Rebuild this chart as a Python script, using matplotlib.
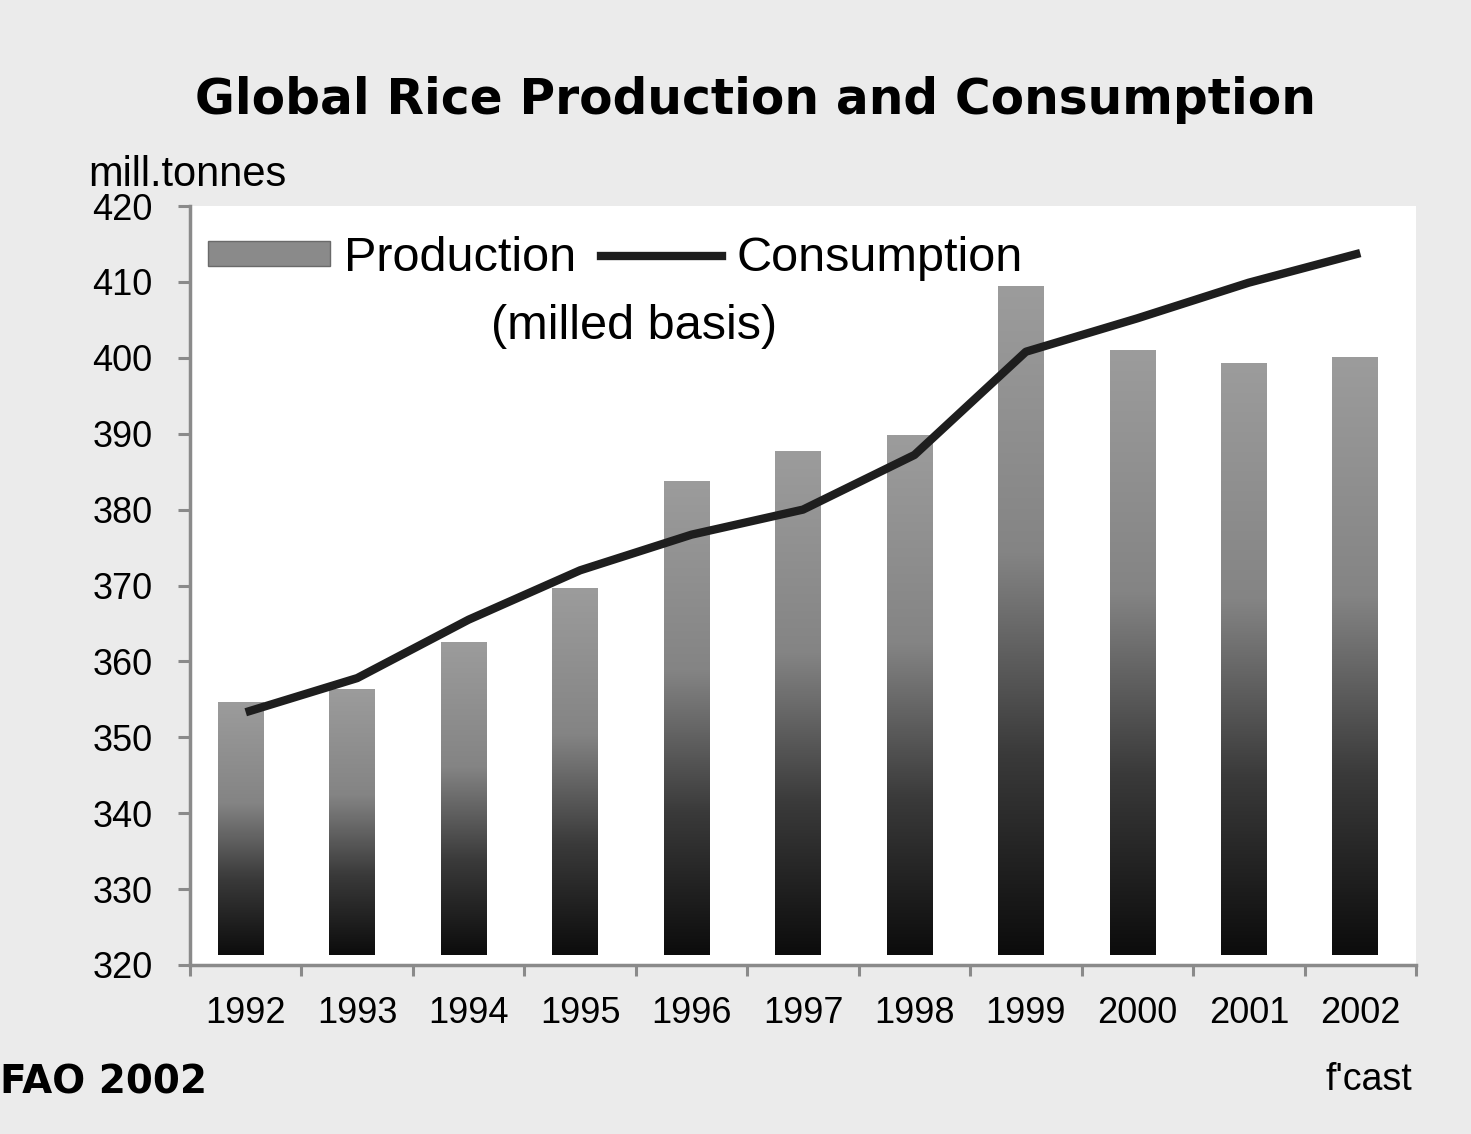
import numpy as np
import matplotlib
matplotlib.use("Agg")
import matplotlib.pyplot as plt
from matplotlib.colors import LinearSegmentedColormap
from matplotlib.patches import Patch
from matplotlib.lines import Line2D

# ---- data ----
years = ["1992", "1993", "1994", "1995", "1996", "1997", "1998", "1999", "2000", "2001", "2002"]
production = [354.7, 356.4, 362.6, 369.7, 383.8, 387.7, 389.8, 409.5, 401.0, 399.3, 400.1]
consumption = [353.3, 357.8, 365.5, 372.0, 376.7, 380.0, 387.2, 400.8, 405.2, 409.9, 413.8]
y_ticks = [320, 330, 340, 350, 360, 370, 380, 390, 400, 410, 420]

BAR_BASE = 321.3
BAR_SHIFT = -0.045
FONT = "Liberation Sans"

fig = plt.figure(figsize=(14.71, 11.34), dpi=100, facecolor="#ebebeb")
ax = fig.add_axes([190 / 1471, 1 - 965 / 1134, 1226 / 1471, 759 / 1134])
ax.set_facecolor("white")

x = np.arange(len(years))
heights = [p - BAR_BASE for p in production]
bars = ax.bar(x + BAR_SHIFT, heights, bottom=BAR_BASE, width=0.41, facecolor="none",
              edgecolor="none", zorder=2)

cmap = LinearSegmentedColormap.from_list(
    "bargrad", [(0.0, "#0c0c0c"), (0.3, "#3a3a3a"), (0.6, "#848484"), (1.0, "#9c9c9c")])
grad = np.linspace(0, 1, 256).reshape(-1, 1)
for b in bars:
    x0, y0 = b.get_x(), b.get_y()
    w, h = b.get_width(), b.get_height()
    im = ax.imshow(grad, cmap=cmap, origin="lower", aspect="auto",
                   extent=(x0, x0 + w, y0, y0 + h), zorder=2, interpolation="bilinear")
    im.set_clip_path(b)

ax.plot(x, consumption, color="#1e1e1e", linewidth=6, zorder=3, solid_capstyle="butt")

ax.set_xlim(-0.5, len(years) - 0.5)
ax.set_ylim(320, 420)
ax.set_yticks(y_ticks)
ax.set_yticklabels([str(v) for v in y_ticks], fontfamily=FONT, fontsize=26)
ax.set_xticks(x)
ax.set_xticklabels(years, fontfamily=FONT, fontsize=26)
ax.set_xticks(np.arange(-0.5, len(years), 1.0), minor=True)
ax.tick_params(axis="x", which="major", length=0, pad=22)
ax.tick_params(axis="x", which="minor", length=8, width=2.2, color="#8a8a8a", direction="out")
ax.tick_params(axis="y", which="major", length=9, width=2.2, color="#8a8a8a", direction="out", pad=18)
for s in ["top", "right"]:
    ax.spines[s].set_visible(False)
for s in ["left", "bottom"]:
    ax.spines[s].set_color("#8a8a8a")
    ax.spines[s].set_linewidth(2.5)

# legend
handles = [Patch(facecolor="#8a8a8a", edgecolor="#6a6a6a"),
           Line2D([0], [0], color="#1e1e1e", linewidth=6)]
leg = ax.legend(handles, ["Production", "Consumption"], ncol=2, loc="center left",
                bbox_to_anchor=(0.0147, 0.931), frameon=False, borderpad=0, borderaxespad=0,
                handlelength=2.5, handleheight=0.4, handletextpad=0.3, columnspacing=0.5,
                prop={"family": FONT, "size": 35})
ax.text(0.362, 0.841, "(milled basis)", transform=ax.transAxes, ha="center", va="center",
        fontfamily=FONT, fontsize=35)

# texts
fig.text(755 / 1471, 1 - 100 / 1134, "Global Rice Production and Consumption",
         ha="center", va="center", fontfamily="DejaVu Sans", fontweight="bold", fontsize=35)
fig.text(88 / 1471, 1 - 175 / 1134, "mill.tonnes", ha="left", va="center",
         fontfamily=FONT, fontsize=30)
fig.text(0.0, 1 - 1083 / 1134, "FAO 2002", ha="left", va="center",
         fontfamily="DejaVu Sans", fontweight="bold", fontsize=28)
fig.text(1412 / 1471, 1 - 1080 / 1134, "f'cast", ha="right", va="center",
         fontfamily=FONT, fontsize=27)

fig.savefig("out.png", dpi=100, facecolor=fig.get_facecolor())
